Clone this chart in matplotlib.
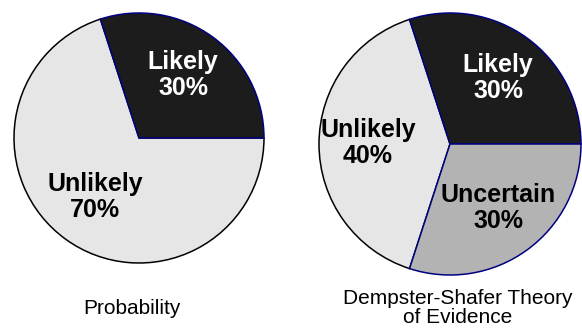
import matplotlib
matplotlib.use("Agg")
import matplotlib.pyplot as plt

plt.rcParams["font.family"] = ["Liberation Sans", "DejaVu Sans"]

# data
prob_labels = ["Likely", "Unlikely"]
prob_values = [30, 70]
ds_labels = ["Likely", "Unlikely", "Uncertain"]
ds_values = [30, 40, 30]

fills = {"Likely": "#1c1c1c", "Unlikely": "#e6e6e6", "Uncertain": "#b3b3b3"}
edges = {"Likely": "#000080", "Unlikely": "#000000", "Uncertain": "#000080"}
text_col = {"Likely": "white", "Unlikely": "black", "Uncertain": "black"}

W, H = 582, 330
fig = plt.figure(figsize=(W / 100, H / 100), dpi=100)
ax = fig.add_axes([0, 0, 1, 1])
ax.set_xlim(0, W)
ax.set_ylim(0, H)
ax.set_aspect("equal")
ax.axis("off")


def draw_pie(labels, values, center, radius, label_pos, caption, cap_pos):
    wedges, _ = ax.pie(values, startangle=0, counterclock=True,
                       colors=[fills[l] for l in labels],
                       center=(center[0], H - center[1]), radius=radius,
                       frame=True)
    for w, l in zip(wedges, labels):
        w.set_edgecolor(edges[l])
        w.set_linewidth(1.1)
        w.set_zorder(3 if edges[l] != "#000000" else 2)
    for l, v, (x, y) in zip(labels, values, label_pos):
        ax.text(x, H - y, f"{l}\n{v}%", ha="center", va="center",
                fontsize=18, fontweight="bold", color=text_col[l],
                linespacing=1.15, zorder=5)
    ax.text(cap_pos[0], H - cap_pos[1], caption, ha="center", va="center",
            fontsize=15, linespacing=1.05)


draw_pie(prob_labels, prob_values, (139, 138), 125,
         [(183, 75), (95, 197)], "Probability", (132, 308))
draw_pie(ds_labels, ds_values, (450, 144), 131,
         [(498, 78), (368, 143), (498, 208)],
         "Dempster-Shafer Theory\nof Evidence", (458, 308))

ax.set_xlim(0, W)
ax.set_ylim(0, H)
ax.axis("off")

fig.savefig("out.png", dpi=100)
